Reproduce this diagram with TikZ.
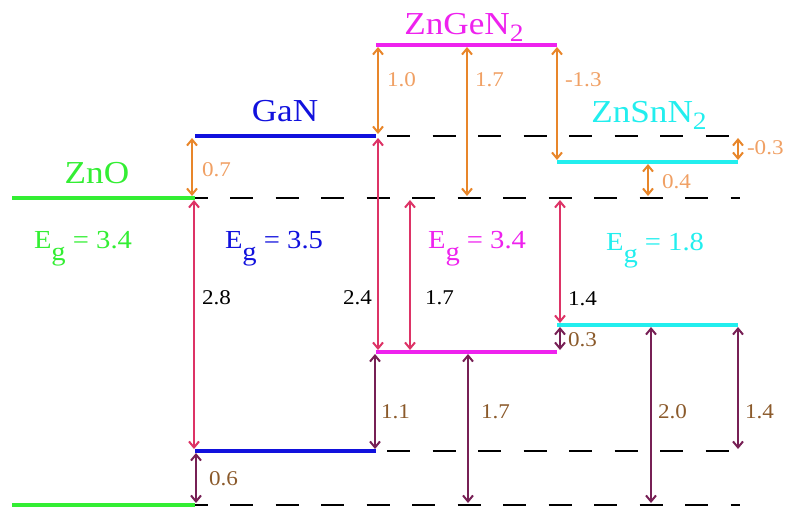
\documentclass[tikz,border=0pt]{standalone}
\usepackage{fontspec}
\setmainfont{Liberation Serif}
\newfontfamily\tms{Liberation Serif}[FakeStretch=1.1]
\usetikzlibrary{arrows.meta}
\definecolor{cZnO}{RGB}{51,238,51}
\definecolor{cGaN}{RGB}{17,17,221}
\definecolor{cGe}{RGB}{238,34,238}
\definecolor{cSn}{RGB}{34,238,238}
\definecolor{cOr}{RGB}{232,134,42}
\definecolor{cOrT}{RGB}{240,160,100}
\definecolor{cPk}{RGB}{221,51,102}
\definecolor{cPu}{RGB}{119,32,85}
\definecolor{cBr}{RGB}{139,90,43}
\begin{document}
\begin{tikzpicture}[x=1pt,y=-1pt,line width=2pt,
  lev/.style={line width=4.5pt},
  gap/.style={line width=2.6pt,dash pattern=on 23pt off 22.5pt},
  arr/.style={{Straight Barb[length=6pt,width=10pt]}-{Straight Barb[length=6pt,width=10pt]},
    line width=2pt,shorten <=2pt,shorten >=2pt},
  num/.style={font=\tms\fontsize{21}{21}\selectfont,anchor=west,inner sep=0pt},
  mat/.style={font=\tms\fontsize{32}{32}\selectfont,anchor=base,inner sep=0pt},
  eg/.style={font=\tms\fontsize{26}{26}\selectfont,anchor=base,inner sep=0pt}]
\useasboundingbox (0,0) rectangle (787,508);
% band edges: c = conduction, v = valence
\coordinate (zc1) at (12,198); \coordinate (zc2) at (195,198);
\coordinate (zv1) at (12,505); \coordinate (zv2) at (195,505);
\coordinate (gc1) at (195,136); \coordinate (gc2) at (376,136);
\coordinate (gv1) at (195,451); \coordinate (gv2) at (376,451);
\coordinate (gec1) at (376,45); \coordinate (gec2) at (557,45);
\coordinate (gev1) at (376,352); \coordinate (gev2) at (557,352);
\coordinate (sc1) at (557,162); \coordinate (sc2) at (738,162);
\coordinate (sv1) at (557,325); \coordinate (sv2) at (738,325);
\coordinate (rt) at (740,0);
\draw[gap,dash phase=10.5pt] (zc2) -- (zc2 -| rt); \draw[gap,dash phase=10.5pt] (zv2) -- (zv2 -| rt);
\draw[gap,dash phase=34.5pt] (gc2) -- (gc2 -| rt); \draw[gap,dash phase=34.5pt] (gv2) -- (gv2 -| rt);
\draw[lev,cZnO] (zc1)--(zc2); \draw[lev,cZnO] (zv1)--(zv2);
\draw[lev,cGaN] (gc1)--(gc2); \draw[lev,cGaN] (gv1)--(gv2);
\draw[lev,cGe] (gec1)--(gec2); \draw[lev,cGe] (gev1)--(gev2);
\draw[lev,cSn] (sc1)--(sc2); \draw[lev,cSn] (sv1)--(sv2);
% conduction band offsets
\foreach \x/\a/\b/\lx/\ly/\t [count=\i] in {192/gc1/zc2/201/170/0.7, 378/gec1/gc2/386/80/1.0,
  467/gec1/zc2/474/80/1.7, 557/gec2/sc1/564/80/-1.3, 738/gc2/sc2/746/148/-0.3, 648/sc1/zc2/661/182/0.4}{
  \draw[arr,cOr] (\x,0 |- \a) -- (\x,0 |- \b);
  \node[num,text=cOrT] (o\i) at (\lx,\ly) {\t};}
% gaps
\foreach \x/\a/\b/\lx/\ly/\t [count=\i] in {194/zc2/gv1/201/298/2.8, 410/zc2/gev1/424/298/1.7,
  560/zc2/sv1/567/299/1.4}{
  \draw[arr,cPk] (\x,0 |- \a) -- (\x,0 |- \b);
  \node[num] (p\i) at (\lx,\ly) {\t};}
\draw[arr,cPk] (378,0 |- gc2) -- (378,0 |- gev1);
\node[num,anchor=east] (p4) at (373,298) {2.4};
% valence band offsets
\foreach \x/\a/\b/\lx/\ly/\t [count=\i] in {196/gv1/zv2/208/479/0.6, 375/gev1/gv2/380/412/1.1,
  468/gev1/zv2/480/412/1.7, 560/sv1/gev2/567/340/0.3, 651/sv1/zv2/657/412/2.0, 738/sv2/gv2/744/412/1.4}{
  \draw[arr,cPu] (\x,0 |- \a) -- (\x,0 |- \b);
  \node[num,text=cBr] (u\i) at (\lx,\ly) {\t};}
\node[mat,text=cZnO] (zno) at (97,183) {ZnO};
\node[mat,text=cGaN] (gan) at (285,122) {GaN};
\node[mat,text=cGe] (znge) at (464,35) {ZnGeN\raisebox{-7pt}{\fontsize{25}{25}\selectfont 2}};
\node[mat,text=cSn] (znsn) at (649,123) {ZnSnN\raisebox{-7pt}{\fontsize{25}{25}\selectfont 2}};
\node[eg,text=cZnO] (eg1) at (83,248) {E\raisebox{-12pt}{g} = 3.4};
\node[eg,text=cGaN] (eg2) at (274,248) {E\raisebox{-12pt}{g} = 3.5};
\node[eg,text=cGe] (eg3) at (477,248) {E\raisebox{-12pt}{g} = 3.4};
\node[eg,text=cSn] (eg4) at (655,250) {E\raisebox{-12pt}{g} = 1.8};
\end{tikzpicture}
\end{document}
